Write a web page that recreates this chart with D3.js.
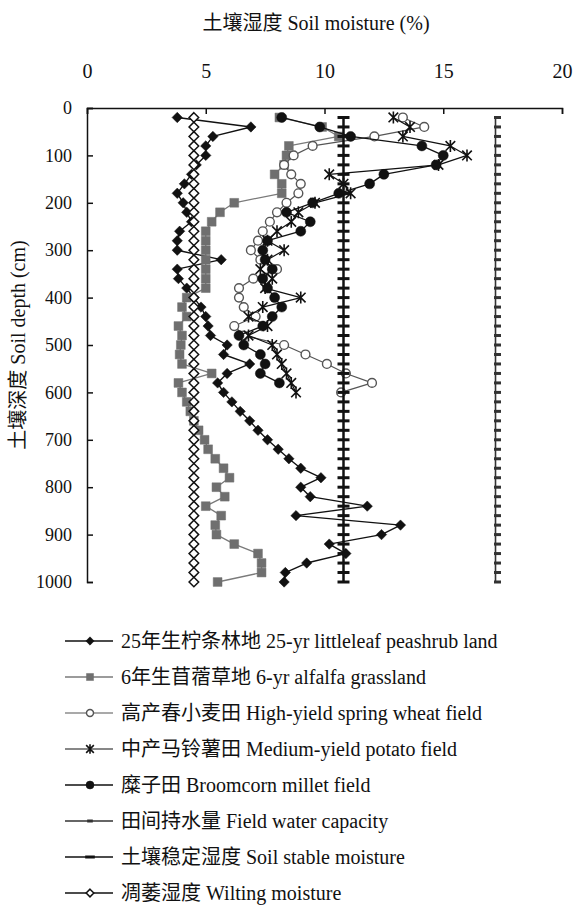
<!DOCTYPE html>
<html>
<head>
<meta charset="utf-8">
<script src="https://cdn.jsdelivr.net/npm/d3@7"></script>
<style>
  body { margin: 0; background: #fff; }
  svg text { font-family: "Liberation Serif", "Times New Roman", Tinos, "DejaVu Serif", "Noto Sans CJK SC", serif; fill: #111; }
</style>
</head>
<body>
<svg id="chart" width="582" height="905"></svg>
<script>
// depth sampling (cm)
var depths = [20, 40, 60, 80, 100, 120, 140, 160, 180, 200,
    220, 240, 260, 280, 300, 320, 340, 360, 380, 400,
    420, 440, 460, 480, 500, 520, 540, 560, 580, 600,
    620, 640, 660, 680, 700, 720, 740, 760, 780, 800,
    820, 840, 860, 880, 900, 920, 940, 960, 980, 1000];

// soil moisture (%)
var peashrub = [3.8, 6.9, 5.3, 5.0, 5.0, 4.6, 4.4, 4.1, 3.8, 4.05,
    4.2, 4.4, 3.9, 3.8, 3.8, 5.65, 3.8, 3.85, 4.2, 4.5,
    4.8, 5.0, 5.1, 5.2, 5.9, 5.75, 6.85, 5.9, 5.5, 5.75,
    6.1, 6.45, 6.85, 7.2, 7.6, 8.05, 8.5, 9.0, 9.85, 9.0,
    9.4, 11.8, 8.8, 13.2, 12.4, 10.2, 10.9, 9.25, 8.35, 8.3];
var alfalfa = [8.1, 9.9, 10.6, 8.5, 8.4, 8.3, 7.9, 8.2, 8.2, 6.2,
    5.6, 5.25, 5.0, 5.0, 5.0, 5.0, 5.0, 5.0, 5.0, 4.2,
    4.0, 4.2, 3.85, 4.0, 3.95, 3.9, 4.0, 5.25, 3.85, 4.0,
    4.2, 4.35, 4.5, 4.7, 4.95, 5.1, 5.4, 5.75, 6.0, 5.45,
    5.8, 5.0, 5.65, 5.4, 5.45, 6.2, 7.2, 7.35, 7.35, 5.5];
var wheat = [13.3, 14.2, 12.1, 9.5, 8.7, 8.3, 8.6, 9.0, 8.9, 8.4,
    8.0, 7.7, 7.4, 7.2, 6.9, 7.3, 8.0, 7.0, 6.4, 6.4,
    6.6, 7.1, 6.2, 6.6, 8.3, 9.2, 10.1, 10.9, 12.0, 10.7];
var potato = [12.9, 13.6, 13.3, 15.3, 16.0, 14.8, 10.2, 10.8, 11.1, 9.6,
    8.9, 8.6, 8.0, 7.6, 8.3, 7.6, 7.3, 7.8, 7.5, 9.0,
    7.4, 6.8, 7.6, 6.8, 7.8, 8.0, 8.2, 8.4, 8.6, 8.8];
var millet = [8.2, 9.8, 11.1, 14.1, 15.0, 14.7, 12.5, 11.9, 10.6, 9.5,
    8.4, 9.4, 9.0, 7.6, 7.4, 7.5, 7.8, 7.4, 7.6, 7.9,
    8.2, 7.8, 7.4, 6.4, 6.6, 7.3, 7.5, 7.3, 8.1];
var fieldCapacity = 17.2;
var stableMoisture = 10.8;
var wiltingMoisture = 4.5;

var xTicks = [0, 5, 10, 15, 20];
var yTicks = [0, 100, 200, 300, 400, 500, 600, 700, 800, 900, 1000];

var legendLabels = [
    "25年生柠条林地 25-yr littleleaf peashrub land",
    "6年生苜蓿草地 6-yr alfalfa grassland",
    "高产春小麦田 High-yield spring wheat field",
    "中产马铃薯田 Medium-yield potato field",
    "糜子田 Broomcorn millet field",
    "田间持水量 Field water capacity",
    "土壤稳定湿度 Soil stable moisture",
    "凋萎湿度 Wilting moisture"
];

var serif = "'Liberation Serif', 'Times New Roman', Tinos, 'DejaVu Serif', 'Noto Sans CJK SC', serif";

var svg = d3.select("#chart");

var x = d3.scaleLinear().domain([0, 20]).range([87, 562]);
var y = d3.scaleLinear().domain([0, 1000]).range([108, 582]);

function pts(vals) {
    return vals.map(function (v, i) { return [v, depths[i]]; });
}
function constPts(v) {
    return depths.map(function (d) { return [v, d]; });
}

var line = d3.line()
    .x(function (d) { return x(d[0]); })
    .y(function (d) { return y(d[1]); });

// marker paths, centred on 0,0
var markers = {
    diamond: function (s) { return "M0," + (-s) + "L" + s + ",0L0," + s + "L" + (-s) + ",0Z"; },
    square: function (s) { return "M" + (-s) + "," + (-s) + "h" + 2 * s + "v" + 2 * s + "h" + (-2 * s) + "Z"; },
    circle: function (s) { return "M" + (-s) + ",0a" + s + "," + s + " 0 1,0 " + 2 * s + ",0a" + s + "," + s + " 0 1,0 " + (-2 * s) + ",0Z"; },
    star: function (s) {
        var a = s * 0.8;
        return "M" + (-a) + "," + (-a) + "L" + a + "," + a + "M" + a + "," + (-a) + "L" + (-a) + "," + a +
            "M0," + (-s) + "L0," + s;
    },
    dash: function (s) { return "M" + (-s) + ",-1.5h" + 2 * s + "v3h" + (-2 * s) + "Z"; }
};

var series = [
    { data: pts(peashrub), stroke: "#111", width: 1.4, marker: "diamond", size: 5.2, fill: "#111", mstroke: "#111", mwidth: 0.5 },
    { data: pts(alfalfa), stroke: "#7a7a7a", width: 1.3, marker: "square", size: 4.4, fill: "#6f6f6f", mstroke: "#6f6f6f", mwidth: 0.5 },
    { data: pts(wheat), stroke: "#555", width: 1.2, marker: "circle", size: 4.4, fill: "#fff", mstroke: "#555", mwidth: 1.4 },
    { data: pts(potato), stroke: "#111", width: 1.2, marker: "star", size: 6, fill: "none", mstroke: "#111", mwidth: 1.6 },
    { data: pts(millet), stroke: "#111", width: 1.3, marker: "circle", size: 5, fill: "#111", mstroke: "#111", mwidth: 0.5 },
    { data: constPts(fieldCapacity), stroke: "#333", width: 1.6, marker: "dash", size: 3.5, fill: "#333", mstroke: "none", mwidth: 0, mdx: 2 },
    { data: constPts(stableMoisture), stroke: "#111", width: 2.5, marker: "dash", size: 6, fill: "#111", mstroke: "none", mwidth: 0 },
    { data: constPts(wiltingMoisture), stroke: "#111", width: 1.4, marker: "diamond", size: 4.8, fill: "#fff", mstroke: "#111", mwidth: 1.5 }
];

var plot = svg.append("g").attr("class", "series");

series.forEach(function (s) {
    var g = plot.append("g");
    g.append("path")
        .attr("d", line(s.data))
        .attr("fill", "none")
        .attr("stroke", s.stroke)
        .attr("stroke-width", s.width)
        .attr("stroke-linejoin", "round");
    g.selectAll("path.m")
        .data(s.data)
        .enter().append("path")
        .attr("class", "m")
        .attr("transform", function (d) {
            return "translate(" + (x(d[0]) + (s.mdx || 0)) + "," + y(d[1]) + ")";
        })
        .attr("d", markers[s.marker](s.size))
        .attr("fill", s.fill)
        .attr("stroke", s.mstroke)
        .attr("stroke-width", s.mwidth);
});

// axes: top and left, ticks pointing inward
var xAxis = svg.append("g")
    .attr("transform", "translate(0,108)")
    .call(d3.axisTop(x).tickValues(xTicks).tickFormat(d3.format("d"))
        .tickSizeInner(-6).tickSizeOuter(-6).tickPadding(30));
var yAxis = svg.append("g")
    .attr("transform", "translate(87,0)")
    .call(d3.axisLeft(y).tickValues(yTicks).tickFormat(d3.format("d"))
        .tickSizeInner(-6).tickSizeOuter(-6).tickPadding(15));

[xAxis, yAxis].forEach(function (a) {
    a.attr("font-family", serif);
    a.selectAll("path, line").attr("stroke", "#111").attr("stroke-width", 1.5);
    a.selectAll("text").attr("fill", "#111");
});
xAxis.attr("font-size", 20);
yAxis.attr("font-size", 18);

svg.append("text")
    .attr("x", 316)
    .attr("y", 30)
    .attr("text-anchor", "middle")
    .attr("font-family", serif)
    .attr("font-size", 20)
    .text("土壤湿度 Soil moisture (%)");

svg.append("text")
    .attr("transform", "translate(25,345) rotate(-90)")
    .attr("text-anchor", "middle")
    .attr("font-family", serif)
    .attr("font-size", 20)
    .text("土壤深度 Soil depth (cm)");

// legend
var legend = svg.append("g")
    .selectAll("g")
    .data(series)
    .enter().append("g")
    .attr("transform", function (d, i) { return "translate(0," + (641 + i * 36) + ")"; });

legend.append("line")
    .attr("x1", 65).attr("x2", 113)
    .attr("stroke", function (d) { return d.stroke; })
    .attr("stroke-width", function (d) { return Math.min(d.width, 1.6); });

legend.append("path")
    .attr("transform", "translate(90,0)")
    .attr("d", function (d) { return markers[d.marker](d.size * 0.8); })
    .attr("fill", function (d) { return d.fill; })
    .attr("stroke", function (d) { return d.mstroke; })
    .attr("stroke-width", function (d) { return d.mwidth; });

legend.append("text")
    .attr("x", 121)
    .attr("dy", "0.35em")
    .attr("font-family", serif)
    .attr("font-size", 20)
    .text(function (d, i) { return legendLabels[i]; });
</script>
</body>
</html>
